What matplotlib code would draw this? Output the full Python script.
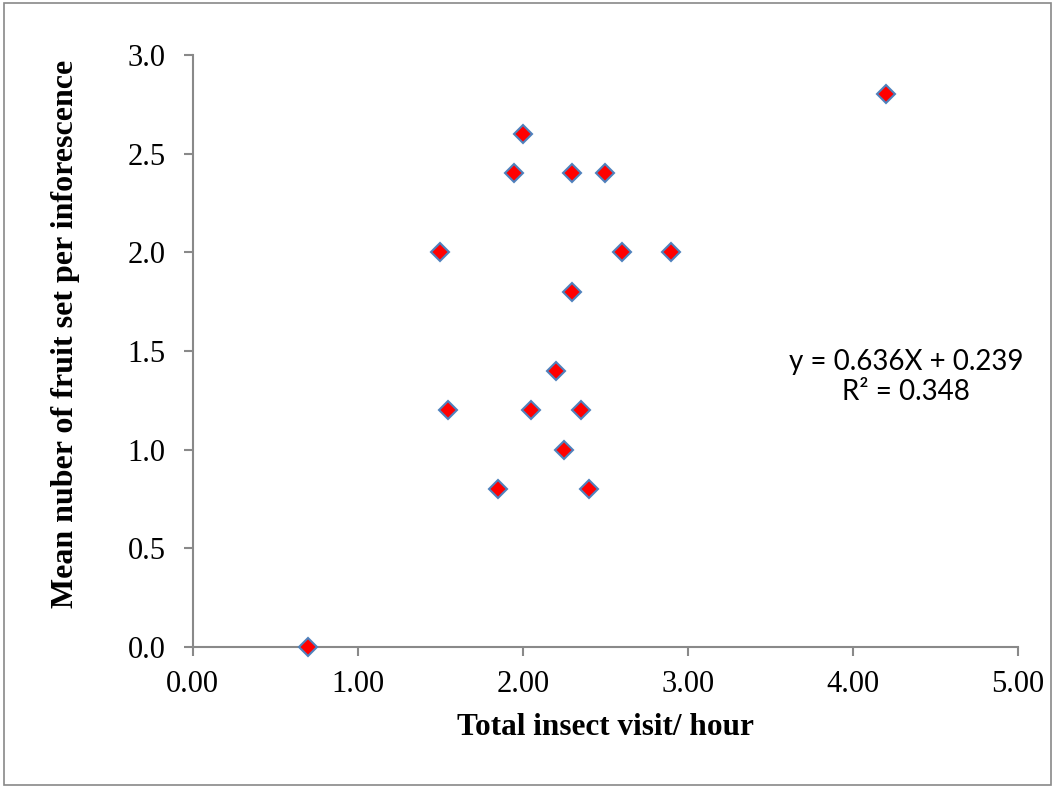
import matplotlib.pyplot as plt
from matplotlib.patches import Rectangle

visits = [0.70, 1.50, 1.55, 1.85, 1.95, 2.00, 2.05, 2.20, 2.25, 2.30, 2.30,
          2.35, 2.40, 2.50, 2.60, 2.90, 4.20]
fruit_set = [0.0, 2.0, 1.2, 0.8, 2.4, 2.6, 1.2, 1.4, 1.0, 2.4, 1.8,
             1.2, 0.8, 2.4, 2.0, 2.0, 2.8]
x_ticks = [0, 1, 2, 3, 4, 5]
y_ticks = [0.0, 0.5, 1.0, 1.5, 2.0, 2.5, 3.0]
equation = 'y = 0.636X + 0.239\nR² = 0.348'

plt.rcParams['font.family'] = 'Liberation Serif'

fig = plt.figure(figsize=(10.55, 7.91), dpi=100)
ax = fig.add_axes([0.1825, 0.182, 0.7825, 0.7485])

ax.plot(visits, fruit_set, linestyle='none', marker='D', markersize=9.5,
        markerfacecolor='#ff0000', markeredgecolor='#4f81bd',
        markeredgewidth=1.5, clip_on=False, zorder=3)

ax.set_xlim(0, 5)
ax.set_ylim(0, 3)
ax.set_xticks(x_ticks)
ax.set_xticklabels([f'{v:.2f}' for v in x_ticks])
ax.set_yticks(y_ticks)
ax.set_yticklabels([f'{v:.1f}' for v in y_ticks])

for side in ['top', 'right']:
    ax.spines[side].set_visible(False)
for side in ['left', 'bottom']:
    ax.spines[side].set_color('#898989')
    ax.spines[side].set_linewidth(1.5)
ax.tick_params(axis='both', direction='out', length=6.5, width=1.5,
               color='#898989', labelsize=22)
ax.tick_params(axis='y', pad=13)
ax.tick_params(axis='x', pad=10)

ax.set_xlabel('Total insect visit/ hour', fontsize=22.5, fontweight='bold')
ax.xaxis.set_label_coords(0.5, -0.112)
ax.set_ylabel('Mean nuber of fruit set per inforescence', fontsize=23,
              fontweight='bold')
ax.yaxis.set_label_coords(-0.136, 0.529)

ax.text(4.32, 1.37, equation, ha='center', va='center', fontsize=20,
        family='Lato', linespacing=1.2)

# chart border
fig.patches.append(Rectangle((0.004, 0.007), 0.992, 0.989, fill=False,
                             edgecolor='#898989', linewidth=1.2,
                             transform=fig.transFigure))

plt.savefig('out.png', dpi=100)
